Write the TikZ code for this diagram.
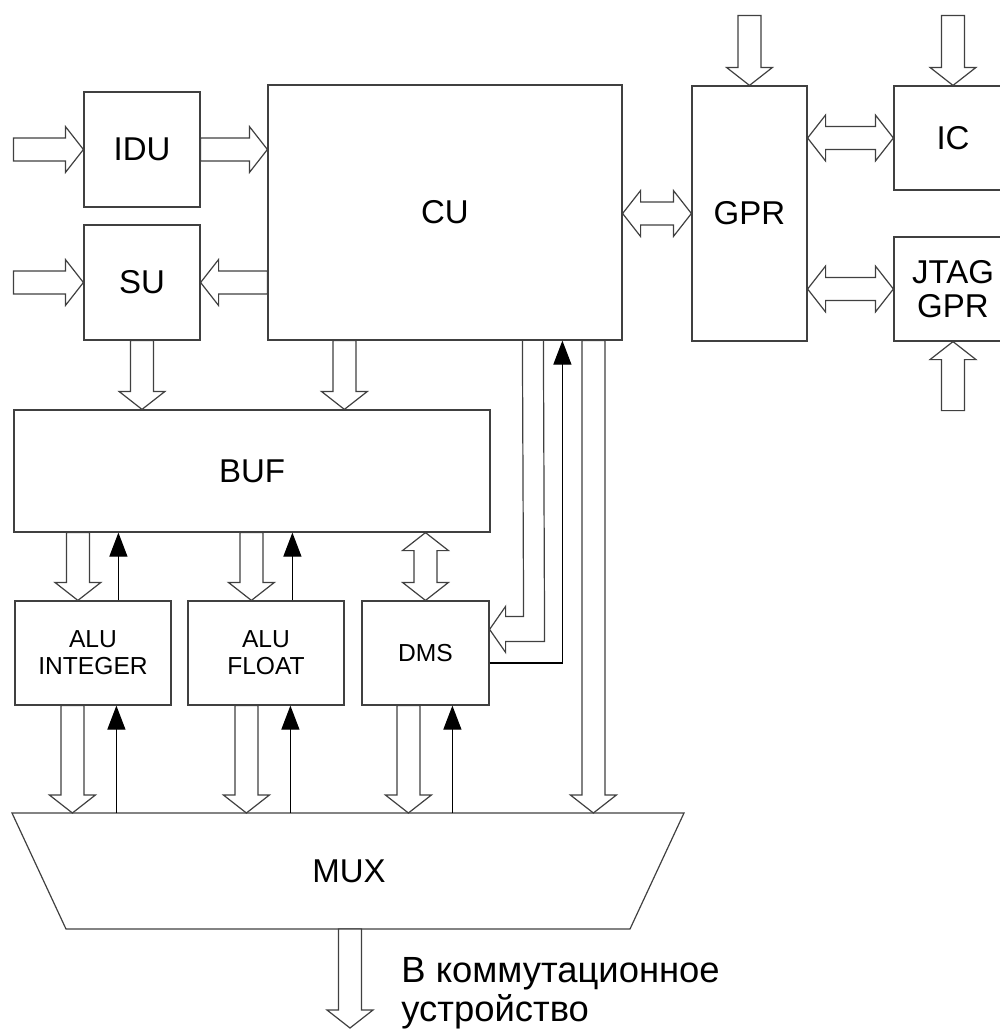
\documentclass[tikz,border=0pt]{standalone}
\usepackage{fontspec}
\setmainfont{Liberation Sans}
\usetikzlibrary{calc,arrows.meta}
\newcommand\bigtxt{\fontsize{16.5}{17}\selectfont}
\newcommand\smalltxt{\fontsize{12.3}{13.5}\selectfont}
\newcommand\rutxt{\fontsize{18.2}{19.5}\selectfont}
\newcommand\arrSW{5.75pt}
\newcommand\arrHW{11.5pt}
\newcommand\arrHL{9pt}
\tikzset{
  blk/.style={draw=black!75, line width=0.6pt, inner sep=0pt, align=center, font=\bigtxt},
  smallblk/.style={blk, font=\smalltxt},
  blockarrow/.style={draw=black!75, line width=0.6pt, fill=white, line join=miter},
  thinarr/.style={draw=black, line width=0.6pt, -{Triangle[length=12pt,width=9pt]}},
}
% single hollow block arrow from #1 to #2
\newcommand\blockarr[2]{%
  \coordinate (bah) at ($(#2)!\arrHL!(#1)$);
  \path[blockarrow] ($(#1)!\arrSW!90:(#2)$) -- ($(bah)!\arrSW!90:(#2)$) -- ($(bah)!\arrHW!90:(#2)$) -- (#2)
     -- ($(bah)!\arrHW!-90:(#2)$) -- ($(bah)!\arrSW!-90:(#2)$) -- ($(#1)!\arrSW!-90:(#2)$) -- cycle;
}
% double hollow block arrow between #1 and #2
\newcommand\dblarr[2]{%
  \coordinate (dba) at ($(#1)!\arrHL!(#2)$);
  \coordinate (dbb) at ($(#2)!\arrHL!(#1)$);
  \path[blockarrow] (#1) -- ($(dba)!\arrHW!90:(#2)$) -- ($(dba)!\arrSW!90:(#2)$) -- ($(dbb)!\arrSW!90:(#2)$) -- ($(dbb)!\arrHW!90:(#2)$) -- (#2)
     -- ($(dbb)!\arrHW!-90:(#2)$) -- ($(dbb)!\arrSW!-90:(#2)$) -- ($(dba)!\arrSW!-90:(#2)$) -- ($(dba)!\arrHW!-90:(#2)$) -- cycle;
}
\begin{document}
\begin{tikzpicture}[x=0.5pt,y=-0.5pt]
\useasboundingbox (0,0) rectangle (1000,1030);
\clip (0,0) rectangle (1000,1030);

% blocks
\node[blk, minimum width=58pt, minimum height=57.5pt] (idu) at (142,149.5) {IDU};
\node[blk, minimum width=58pt, minimum height=57.5pt] (su) at (142,282.5) {SU};
\node[blk, minimum width=177pt, minimum height=127.5pt] (cu) at (445,212.5) {CU};
\node[blk, minimum width=57.5pt, minimum height=127.5pt] (gpr) at (749.5,213.5) {GPR};
\node[blk, minimum width=59pt, minimum height=52pt] (ic) at (953,138) {IC};
\node[blk, minimum width=59pt, minimum height=52pt] (jtag) at (953,289) {JTAG\\GPR};
\node[blk, minimum width=238pt, minimum height=61pt] (buf) at (252,471) {BUF};
\node[smallblk, minimum width=78pt, minimum height=52pt] (alui) at (93,653) {ALU\\INTEGER};
\node[smallblk, minimum width=78pt, minimum height=52pt] (aluf) at (266,653) {ALU\\FLOAT};
\node[smallblk, minimum width=63.5pt, minimum height=52pt] (dms) at (425.5,653) {DMS};

% MUX
\path[draw=black!75, line width=0.6pt] (12,813) -- (684,813) -- (630,929) -- (66,929) -- cycle;
\node[font=\bigtxt] (mux) at (349,871) {MUX};
\coordinate (muxtop) at (349,813);
\coordinate (muxbot) at (350,929);
\coordinate (out) at (350,1028);

% inputs
\coordinate (in1) at ($(idu.west)+(-70,0)$);
\coordinate (in2) at ($(su.west)+(-70,0)$);
\blockarr{in1}{idu.west}
\blockarr{in2}{su.west}
\coordinate (cuin) at (idu.east -| cu.west);
\blockarr{idu.east}{cuin}
\coordinate (cuout) at (su.east -| cu.west);
\blockarr{cuout}{su.east}

% GPR side
\coordinate (gprtop) at ($(gpr.north)+(0,-70)$);
\blockarr{gprtop}{gpr.north}
\coordinate (ictop) at ($(ic.north)+(0,-70)$);
\blockarr{ictop}{ic.north}
\coordinate (jtbot) at ($(jtag.south)+(0,69)$);
\blockarr{jtbot}{jtag.south}
\coordinate (cugpr) at (gpr.west -| cu.east);
\dblarr{cugpr}{gpr.west}
\coordinate (gpric) at (ic.west -| gpr.east);
\dblarr{gpric}{ic.west}
\coordinate (gprjt) at (jtag.west -| gpr.east);
\dblarr{gprjt}{jtag.west}

% to BUF
\coordinate (subuf) at (su.south |- buf.north);
\blockarr{su.south}{subuf}
\coordinate (cub) at ($(cu.south west)+(77,0)$);
\coordinate (cubuf) at (cub |- buf.north);
\blockarr{cub}{cubuf}

% BUF <-> ALUs, DMS
\coordinate (b1) at ($(alui.north west)+(63.5,0)$);
\coordinate (b1t) at (b1 |- buf.south);
\blockarr{b1t}{b1}
\coordinate (f1) at ($(alui.north west)+(104,0)$);
\draw[thinarr] (f1) -- (f1 |- buf.south);
\coordinate (b2) at ($(aluf.north west)+(64,0)$);
\coordinate (b2t) at (b2 |- buf.south);
\blockarr{b2t}{b2}
\coordinate (f2) at ($(aluf.north west)+(105,0)$);
\draw[thinarr] (f2) -- (f2 |- buf.south);
\coordinate (b3t) at (dms.north |- buf.south);
\dblarr{b3t}{dms.north}

% ALUs, DMS -> MUX
\coordinate (m1) at ($(alui.south west)+(58,0)$);
\coordinate (m1b) at (m1 |- muxtop);
\blockarr{m1}{m1b}
\coordinate (g1) at ($(alui.south west)+(102,0)$);
\draw[thinarr] (g1 |- muxtop) -- (g1);
\coordinate (m2) at ($(aluf.south west)+(59,0)$);
\coordinate (m2b) at (m2 |- muxtop);
\blockarr{m2}{m2b}
\coordinate (g2) at ($(aluf.south west)+(103,0)$);
\draw[thinarr] (g2 |- muxtop) -- (g2);
\coordinate (m3) at ($(dms.south west)+(47,0)$);
\coordinate (m3b) at (m3 |- muxtop);
\blockarr{m3}{m3b}
\coordinate (g3) at ($(dms.south west)+(91,0)$);
\draw[thinarr] (g3 |- muxtop) -- (g3);

% CU -> DMS (bent hollow arrow)
\coordinate (k1) at ($(cu.south west)+(255,0)$);
\coordinate (k2) at ($(cu.south west)+(276,0)$);
\coordinate (ktip) at ($(dms.north east)+(0,29)$);
\path[blockarrow, fill=none] (k1) -- ($(ktip)+(34,-13)$) -- ($(ktip)+(16,-13)$) -- ($(ktip)+(16,-23)$) -- (ktip)
   -- ($(ktip)+(16,23)$) -- ($(ktip)+(16,12)$) -- ($(ktip)+(55,12)$) -- (k2);
% DMS -> CU
\coordinate (k3) at ($(cu.south west)+(295,0)$);
\coordinate (dk) at ($(dms.east)+(0,10)$);
\draw[thinarr] (dk) -| (k3);
% CU -> MUX
\coordinate (k4) at ($(cu.south west)+(326,0)$);
\coordinate (k4b) at (k4 |- muxtop);
\blockarr{k4}{k4b}

% MUX output
\blockarr{muxbot}{out}
\node[font=\rutxt, anchor=north west, inner sep=0pt, align=left] (lbl) at (401,957) {В коммутационное\\устройство};
\end{tikzpicture}
\end{document}
